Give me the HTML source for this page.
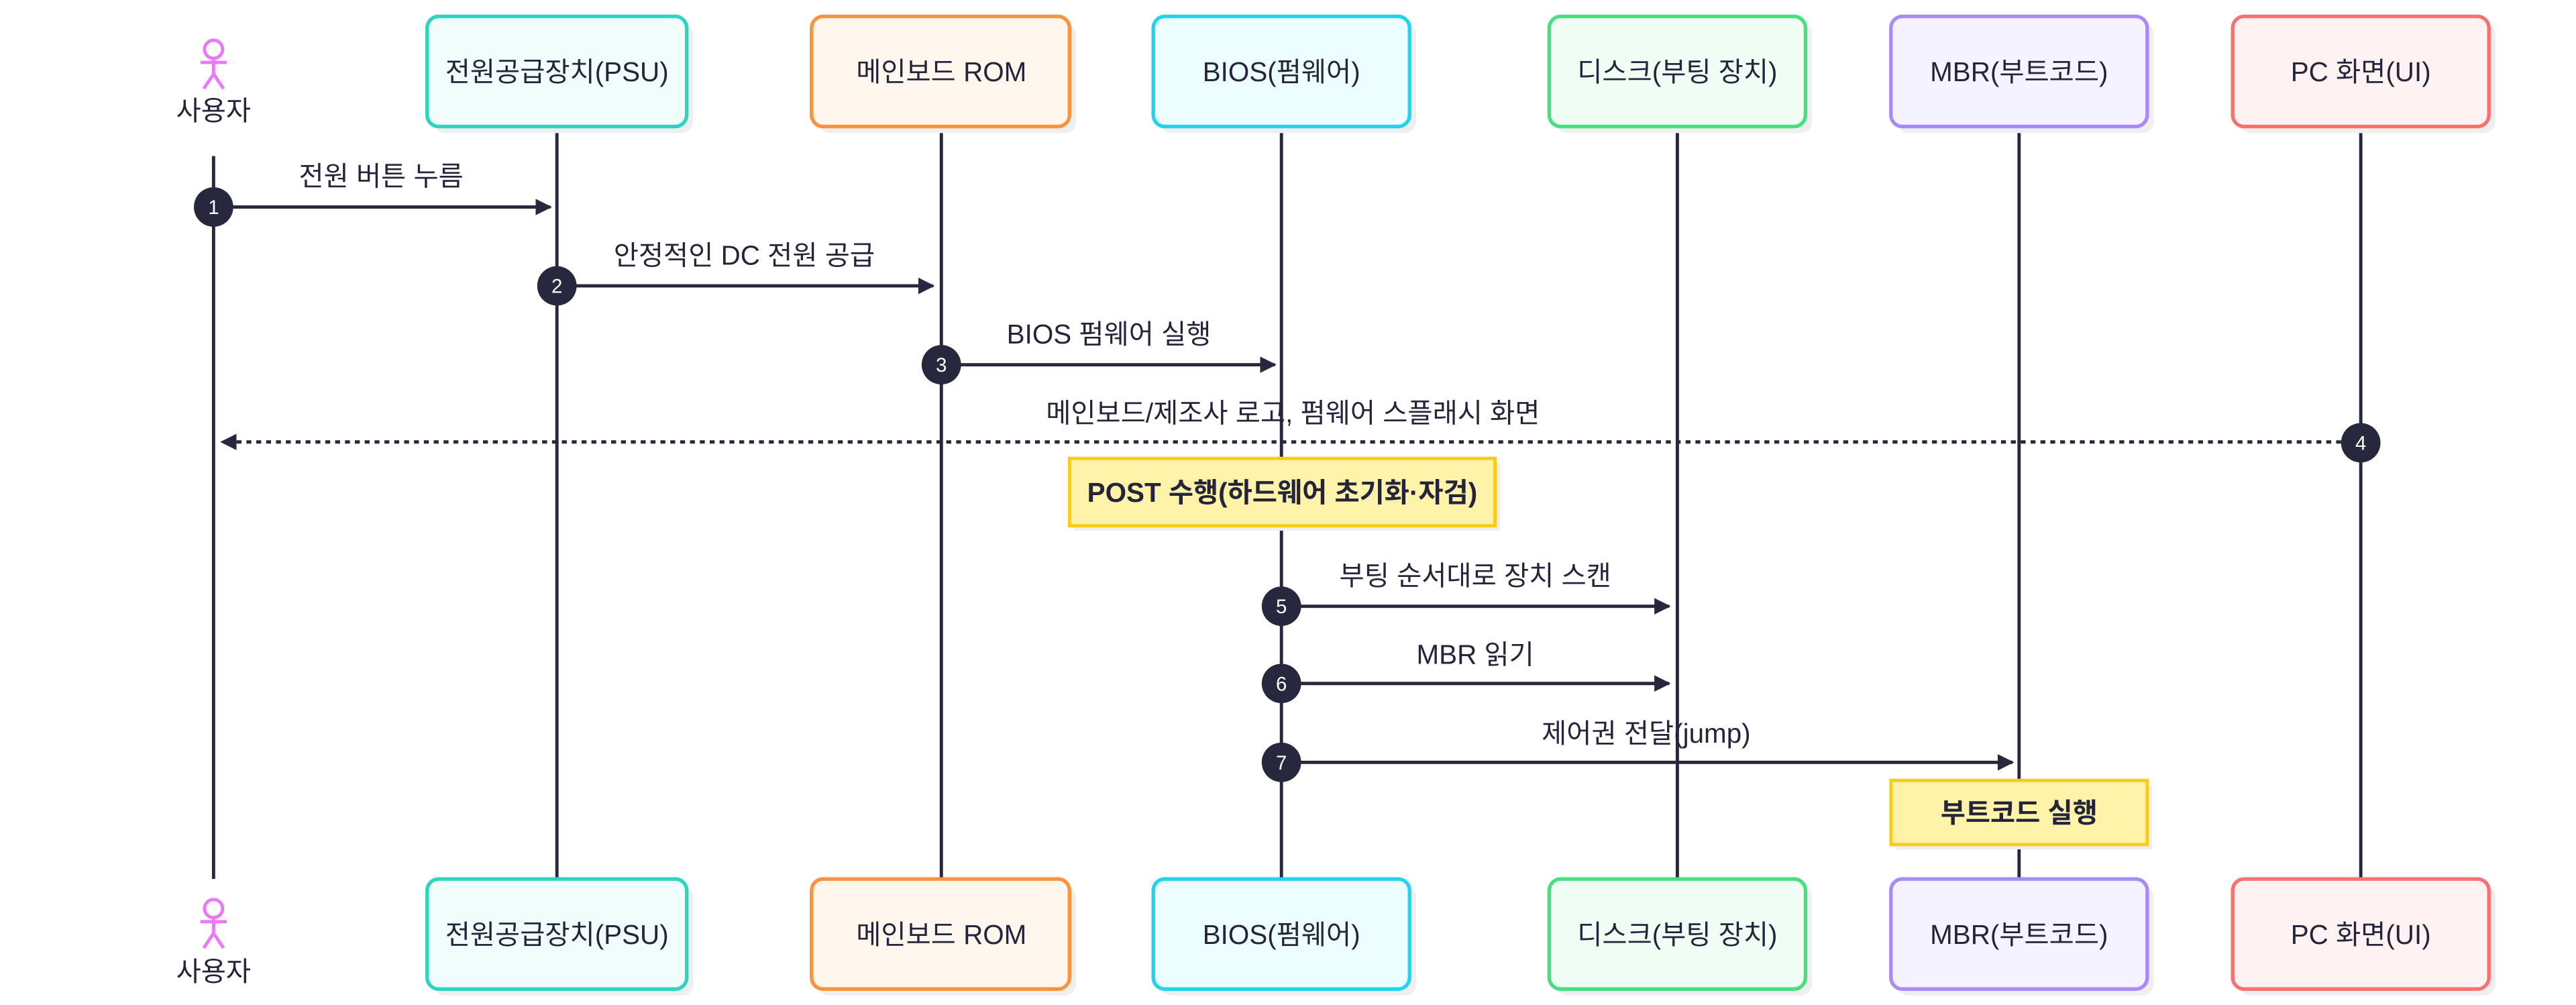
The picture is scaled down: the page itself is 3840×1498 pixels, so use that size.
<!DOCTYPE html>
<html><head><meta charset="utf-8"><style>
html,body{margin:0;padding:0;background:#fff;}
svg{display:block;}
text{font-family:"Liberation Sans","Noto Sans CJK KR",sans-serif;fill:#24243a;}
</style></head><body>
<svg width="3840" height="1498" viewBox="0 0 1568 611.7" preserveAspectRatio="none" xmlns="http://www.w3.org/2000/svg">
<defs>
<marker id="ah" markerWidth="10" markerHeight="10" refX="9" refY="5" orient="auto" markerUnits="userSpaceOnUse"><path d="M0,0 L10,5 L0,10 z" fill="#27273d"/></marker>
</defs>
<g stroke="#27273d" stroke-width="2">
<line x1="130" y1="95" x2="130" y2="535"/>
<line x1="339" y1="77" x2="339" y2="535"/>
<line x1="573" y1="77" x2="573" y2="535"/>
<line x1="780" y1="77" x2="780" y2="535"/>
<line x1="1021" y1="77" x2="1021" y2="535"/>
<line x1="1229" y1="77" x2="1229" y2="535"/>
<line x1="1437" y1="77" x2="1437" y2="535"/>
</g>
<g stroke-width="2.2">
<g>
<rect x="264" y="14" width="158" height="67" rx="7" fill="#efefef" stroke="none"/>
<rect x="260" y="10" width="158" height="67" rx="7" fill="#f0fdfa" stroke="#2dd4bf"/>
<rect x="498" y="14" width="157" height="67" rx="7" fill="#efefef" stroke="none"/>
<rect x="494" y="10" width="157" height="67" rx="7" fill="#fff7ed" stroke="#fb923c"/>
<rect x="706" y="14" width="156" height="67" rx="7" fill="#efefef" stroke="none"/>
<rect x="702" y="10" width="156" height="67" rx="7" fill="#ecfeff" stroke="#22d3ee"/>
<rect x="947" y="14" width="156" height="67" rx="7" fill="#efefef" stroke="none"/>
<rect x="943" y="10" width="156" height="67" rx="7" fill="#f0fdf4" stroke="#4ade80"/>
<rect x="1155" y="14" width="156" height="67" rx="7" fill="#efefef" stroke="none"/>
<rect x="1151" y="10" width="156" height="67" rx="7" fill="#f5f3ff" stroke="#a78bfa"/>
<rect x="1363" y="14" width="156" height="67" rx="7" fill="#efefef" stroke="none"/>
<rect x="1359" y="10" width="156" height="67" rx="7" fill="#fef2f2" stroke="#f87171"/>
</g>
<g transform="translate(0,525)">
<rect x="264" y="14" width="158" height="67" rx="7" fill="#efefef" stroke="none"/>
<rect x="260" y="10" width="158" height="67" rx="7" fill="#f0fdfa" stroke="#2dd4bf"/>
<rect x="498" y="14" width="157" height="67" rx="7" fill="#efefef" stroke="none"/>
<rect x="494" y="10" width="157" height="67" rx="7" fill="#fff7ed" stroke="#fb923c"/>
<rect x="706" y="14" width="156" height="67" rx="7" fill="#efefef" stroke="none"/>
<rect x="702" y="10" width="156" height="67" rx="7" fill="#ecfeff" stroke="#22d3ee"/>
<rect x="947" y="14" width="156" height="67" rx="7" fill="#efefef" stroke="none"/>
<rect x="943" y="10" width="156" height="67" rx="7" fill="#f0fdf4" stroke="#4ade80"/>
<rect x="1155" y="14" width="156" height="67" rx="7" fill="#efefef" stroke="none"/>
<rect x="1151" y="10" width="156" height="67" rx="7" fill="#f5f3ff" stroke="#a78bfa"/>
<rect x="1363" y="14" width="156" height="67" rx="7" fill="#efefef" stroke="none"/>
<rect x="1359" y="10" width="156" height="67" rx="7" fill="#fef2f2" stroke="#f87171"/>
</g>
</g>
<g font-size="16.5" text-anchor="middle">
<text x="339" y="49.5">전원공급장치(PSU)</text>
<text x="573" y="49.5">메인보드 ROM</text>
<text x="780" y="49.5">BIOS(펌웨어)</text>
<text x="1021" y="49.5">디스크(부팅 장치)</text>
<text x="1229" y="49.5">MBR(부트코드)</text>
<text x="1437" y="49.5">PC 화면(UI)</text>
<text x="339" y="574.5">전원공급장치(PSU)</text>
<text x="573" y="574.5">메인보드 ROM</text>
<text x="780" y="574.5">BIOS(펌웨어)</text>
<text x="1021" y="574.5">디스크(부팅 장치)</text>
<text x="1229" y="574.5">MBR(부트코드)</text>
<text x="1437" y="574.5">PC 화면(UI)</text>
<text x="130" y="73">사용자</text>
<text x="130" y="597">사용자</text>
</g>
<g stroke="#e879f9" stroke-width="2" fill="none">
<circle cx="130" cy="30" r="5.5"/><line x1="130" y1="35.5" x2="130" y2="45"/><line x1="122" y1="38" x2="138" y2="38"/><line x1="130" y1="45" x2="124" y2="54"/><line x1="130" y1="45" x2="136" y2="54"/>
<circle cx="130" cy="553" r="5.5"/><line x1="130" y1="558.5" x2="130" y2="568"/><line x1="122" y1="561" x2="138" y2="561"/><line x1="130" y1="568" x2="124" y2="577"/><line x1="130" y1="568" x2="136" y2="577"/>
</g>
<rect x="654" y="282" width="259" height="41" fill="#efefef"/>
<rect x="651" y="279" width="259" height="41" fill="#fef3a8" stroke="#facc15" stroke-width="2"/>
<text x="780.5" y="305.5" font-size="16.5" font-weight="bold" text-anchor="middle">POST 수행(하드웨어 초기화·자검)</text>
<rect x="1154" y="478" width="156" height="39" fill="#efefef"/>
<rect x="1151" y="475" width="156" height="39" fill="#fef3a8" stroke="#facc15" stroke-width="2"/>
<text x="1229" y="500.5" font-size="16.5" font-weight="bold" text-anchor="middle">부트코드 실행</text>
<g stroke="#27273d" stroke-width="2">
<line x1="130" y1="126" x2="335" y2="126" marker-end="url(#ah)"/>
<line x1="339" y1="174" x2="568" y2="174" marker-end="url(#ah)"/>
<line x1="573" y1="222" x2="776" y2="222" marker-end="url(#ah)"/>
<line x1="1437" y1="269" x2="135" y2="269" stroke-dasharray="3,3" marker-end="url(#ah)"/>
<line x1="780" y1="369" x2="1016" y2="369" marker-end="url(#ah)"/>
<line x1="780" y1="416" x2="1016" y2="416" marker-end="url(#ah)"/>
<line x1="780" y1="464" x2="1225" y2="464" marker-end="url(#ah)"/>
</g>
<g font-size="16.5" text-anchor="middle">
<text x="232" y="113">전원 버튼 누름</text>
<text x="453" y="161">안정적인 DC 전원 공급</text>
<text x="675" y="209">BIOS 펌웨어 실행</text>
<text x="787" y="257">메인보드/제조사 로고, 펌웨어 스플래시 화면</text>
<text x="898" y="356">부팅 순서대로 장치 스캔</text>
<text x="898" y="404">MBR 읽기</text>
<text x="1002" y="452">제어권 전달(jump)</text>
</g>
<g fill="#27273d">
<circle cx="130" cy="126" r="12"/><circle cx="339" cy="174" r="12"/><circle cx="573" cy="222" r="12"/><circle cx="1437" cy="269.5" r="12"/><circle cx="780" cy="369" r="12"/><circle cx="780" cy="416" r="12"/><circle cx="780" cy="464" r="12"/>
</g>
<g font-size="12" text-anchor="middle">
<text x="130" y="130.3" style="fill:#fff">1</text><text x="339" y="178.3" style="fill:#fff">2</text><text x="573" y="226.3" style="fill:#fff">3</text><text x="1437" y="273.8" style="fill:#fff">4</text><text x="780" y="373.3" style="fill:#fff">5</text><text x="780" y="420.3" style="fill:#fff">6</text><text x="780" y="468.3" style="fill:#fff">7</text>
</g>
</svg>
</body></html>
